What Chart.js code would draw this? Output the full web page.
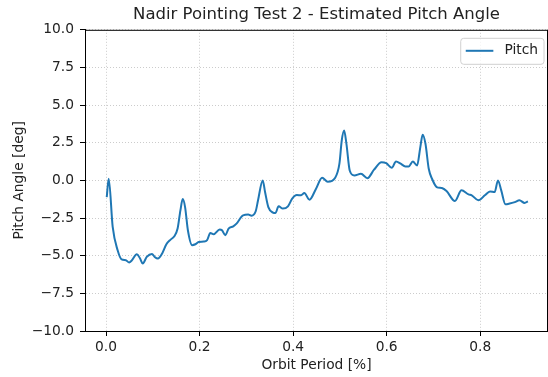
<!DOCTYPE html>
<html>
<head>
<meta charset="utf-8">
<script src="https://cdn.jsdelivr.net/npm/chart.js@4.4.0/dist/chart.umd.min.js"></script>
<style>
  html, body { margin: 0; padding: 0; background: #fff; }
</style>
</head>
<body>
<canvas id="pitch-chart" width="548" height="377"></canvas>
<script>
// Orbit period fraction and estimated pitch angle
const orbitPeriod = [
  0.0015, 0.0057, 0.0142, 0.0248, 0.0333, 0.0424, 0.0494, 0.0545, 0.0658, 0.0728,
  0.0785, 0.087, 0.0982, 0.104, 0.111, 0.120, 0.129, 0.138, 0.146, 0.153,
  0.159, 0.164, 0.169, 0.175, 0.184, 0.191, 0.198, 0.209, 0.216, 0.223,
  0.230, 0.243, 0.248, 0.255, 0.262, 0.272, 0.279, 0.293, 0.304, 0.311,
  0.320, 0.325, 0.335, 0.340, 0.347, 0.357, 0.362, 0.369, 0.378, 0.389,
  0.398, 0.408, 0.417, 0.424, 0.435, 0.449, 0.462, 0.474, 0.490, 0.499,
  0.504, 0.509, 0.514, 0.521, 0.531, 0.545, 0.559, 0.573, 0.589, 0.599,
  0.611, 0.620, 0.630, 0.640, 0.647, 0.656, 0.665, 0.672, 0.677, 0.683,
  0.690, 0.697, 0.707, 0.718, 0.728, 0.746, 0.760, 0.775, 0.782, 0.796,
  0.810, 0.821, 0.831, 0.838, 0.845, 0.854, 0.863, 0.874, 0.884, 0.895,
  0.902
];
const pitchAngle = [
  -1.11, 0.11, -3.09, -4.64, -5.25, -5.30, -5.45, -5.34, -4.90, -5.19,
  -5.52, -5.08, -4.88, -5.08, -5.19, -4.85, -4.24, -3.93, -3.71, -3.20,
  -1.99, -1.24, -1.77, -3.31, -4.30, -4.24, -4.09, -4.06, -3.97, -3.49,
  -3.58, -3.26, -3.31, -3.64, -3.20, -3.05, -2.87, -2.32, -2.27, -2.34,
  -2.05, -1.32, 0.0, -0.77, -1.77, -2.14, -2.17, -1.72, -1.87, -1.72,
  -1.21, -0.97, -0.99, -0.84, -1.28, -0.55, 0.18, -0.09, 0.18, 1.11,
  2.65, 3.31, 2.43, 0.66, 0.33, 0.44, 0.15, 0.71, 1.21, 1.15,
  0.84, 1.26, 1.11, 0.93, 0.93, 1.26, 0.99, 2.21, 3.03, 2.43,
  0.77, 0.11, -0.44, -0.51, -0.71, -1.37, -0.66, -0.93, -0.99, -1.32,
  -0.99, -0.73, -0.77, 0.0, -0.66, -1.59, -1.54, -1.44, -1.32, -1.50,
  -1.39
];

const xTicks = [0, 0.2, 0.4, 0.6, 0.8];
const yTicks = [-10, -7.5, -5, -2.5, 0, 2.5, 5, 7.5, 10];

const FONT = 'DejaVu Sans';
const TEXT = '#222';
const LINE = '#1f77b4';

// matplotlib style tick text: one decimal, real minus sign
function fmt(v) {
  return v.toFixed(1).replace('-', '\u2212');
}

// keep the title centred over the plot area, not the canvas
const centerTitle = {
  id: 'centerTitle',
  afterLayout(chart) {
    if (chart.titleBlock) {
      chart.titleBlock.left = chart.chartArea.left;
      chart.titleBlock.right = chart.chartArea.right;
    }
  }
};

// top/right spines
const frame = {
  id: 'frame',
  afterDraw(chart) {
    const { ctx, chartArea: a } = chart;
    ctx.save();
    ctx.strokeStyle = '#000';
    ctx.lineWidth = 1;
    ctx.beginPath();
    ctx.moveTo(a.left, a.top + 0.5);
    ctx.lineTo(a.right, a.top + 0.5);
    ctx.moveTo(a.right - 0.5, a.top);
    ctx.lineTo(a.right - 0.5, a.bottom);
    ctx.stroke();
    ctx.restore();
  }
};

// legend box in the upper right corner of the plot
const cornerLegend = {
  id: 'cornerLegend',
  afterDraw(chart) {
    const { ctx, chartArea: a } = chart;
    const ds = chart.data.datasets[0];
    const size = 13.8;
    ctx.save();
    ctx.font = size + 'px "' + FONT + '"';
    const tw = ctx.measureText(ds.label).width;
    const w = size * 0.4 + size * 2 + size * 0.8 + tw + size * 0.4;
    const h = 26;
    const right = a.right - 4.5;
    const left = right - w;
    const top = a.top + 8;
    ctx.beginPath();
    ctx.roundRect(left + 0.5, top + 0.5, w, h, 3);
    ctx.fillStyle = 'rgba(255,255,255,0.8)';
    ctx.fill();
    ctx.strokeStyle = '#d0d0d0';
    ctx.lineWidth = 1;
    ctx.stroke();
    const cy = top + h / 2;
    ctx.beginPath();
    ctx.moveTo(left + size * 0.4, cy);
    ctx.lineTo(left + size * 2.4, cy);
    ctx.strokeStyle = ds.borderColor;
    ctx.lineWidth = ds.borderWidth;
    ctx.stroke();
    ctx.fillStyle = TEXT;
    ctx.textBaseline = 'middle';
    ctx.fillText(ds.label, left + size * 3.2, cy);
    ctx.restore();
  }
};

const gridOpts = {
  color: '#cccccc',
  lineWidth: 1,
  tickColor: '#000',
  tickLength: 5,
  tickWidth: 1,
  tickBorderDash: []
};

new Chart(document.getElementById('pitch-chart'), {
  type: 'line',
  data: {
    datasets: [
      {
        label: 'Pitch',
        data: orbitPeriod.map((x, i) => ({ x: x, y: pitchAngle[i] })),
        borderColor: LINE,
        backgroundColor: LINE,
        borderWidth: 2,
        pointRadius: 0,
        fill: false,
        cubicInterpolationMode: 'monotone'
      }
    ]
  },
  options: {
    responsive: false,
    animation: false,
    layout: { padding: 0 },
    plugins: {
      legend: { display: false },
      tooltip: { enabled: false },
      title: {
        display: true,
        text: 'Nadir Pointing Test 2 - Estimated Pitch Angle',
        color: TEXT,
        font: { family: FONT, size: 16.5, weight: 'normal' },
        padding: { top: 5, bottom: 5 }
      }
    },
    scales: {
      x: {
        type: 'linear',
        min: -0.045,
        max: 0.945,
        afterFit(scale) { scale.height = 46; },
        afterBuildTicks(scale) { scale.ticks = xTicks.map(v => ({ value: v })); },
        grid: gridOpts,
        border: { display: true, color: '#000', width: 1, dash: [1, 2] },
        ticks: {
          color: TEXT,
          padding: 3,
          maxRotation: 0,
          font: { family: FONT, size: 13.8 },
          callback: (v) => fmt(v)
        },
        title: {
          display: true,
          text: 'Orbit Period [%]',
          color: TEXT,
          font: { family: FONT, size: 13.8 },
          padding: { top: 0, bottom: 3 }
        }
      },
      y: {
        min: -10,
        max: 10,
        afterFit(scale) { scale.width = 85; },
        afterBuildTicks(scale) { scale.ticks = yTicks.map(v => ({ value: v })); },
        grid: gridOpts,
        border: { display: true, color: '#000', width: 1, dash: [1, 2] },
        ticks: {
          color: TEXT,
          padding: 6,
          font: { family: FONT, size: 13.8 },
          callback: (v) => fmt(v)
        },
        title: {
          display: true,
          text: 'Pitch Angle [deg]',
          color: TEXT,
          font: { family: FONT, size: 13.8 },
          padding: { top: 11, bottom: 0 }
        }
      }
    }
  },
  plugins: [centerTitle, frame, cornerLegend]
});
</script>
</body>
</html>
